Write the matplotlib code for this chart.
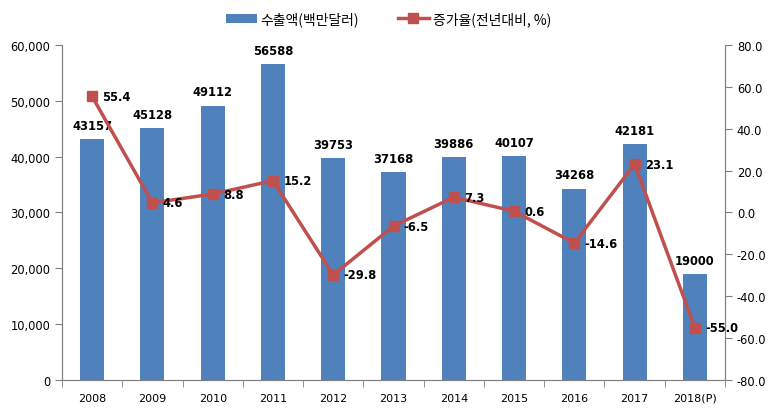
import numpy as np
import matplotlib
matplotlib.use('Agg')
import matplotlib.pyplot as plt
from matplotlib.ticker import FuncFormatter

plt.rcParams['font.family'] = ['DejaVu Sans', 'Noto Sans CJK KR']

years = ['2008', '2009', '2010', '2011', '2012', '2013', '2014', '2015', '2016', '2017', '2018(P)']
exports = [43157, 45128, 49112, 56588, 39753, 37168, 39886, 40107, 34268, 42181, 19000]
growth = [55.4, 4.6, 8.8, 15.2, -29.8, -6.5, 7.3, 0.6, -14.6, 23.1, -55.0]

bar_color = '#4F81BD'
line_color = '#C0504D'

fig = plt.figure(figsize=(7.77, 4.14), dpi=100)
ax = fig.add_axes([0.0798, 0.0797, 0.8533, 0.8093])
ax2 = ax.twinx()

x = np.arange(len(years))
bars = ax.bar(x, exports, width=0.4, color=bar_color, label='수출액(백만달러)', zorder=2)
ln, = ax2.plot(x, growth, color=line_color, lw=2.5, marker='s', ms=7,
               label='증가율(전년대비, %)', zorder=3)

ax.set_xlim(-0.5, len(years) - 0.5)
ax.set_ylim(0, 60000)
ax.set_yticks(np.arange(0, 60001, 10000))
ax.yaxis.set_major_formatter(FuncFormatter(lambda v, p: f'{int(v):,}'))
ax2.set_ylim(-80, 80)
ax2.set_yticks(np.arange(-80, 81, 20))
ax2.yaxis.set_major_formatter(FuncFormatter(lambda v, p: f'{v:.1f}'))

ax.set_xticks(x)
ax.set_xticklabels(years)
ax.set_xticks(np.arange(-0.5, len(years), 1), minor=True)
ax.tick_params(axis='x', which='major', length=0, labelsize=8, pad=9)
ax.tick_params(axis='x', which='minor', length=5, color='#808080')
ax.tick_params(axis='y', labelsize=8.3, length=5, color='#808080')
ax2.tick_params(axis='y', labelsize=8.3, length=5, color='#808080')

for a in (ax, ax2):
    for s in a.spines.values():
        s.set_color('#808080')
    a.spines['top'].set_visible(False)

for xi, v in zip(x, exports):
    ax.text(xi, v + 1300, str(v), ha='center', va='bottom', fontsize=8.3, fontweight='bold')

for xi, g in zip(x, growth):
    ax2.text(xi + 0.17, g, f'{g:.1f}', ha='left', va='center', fontsize=8.3, fontweight='bold')

fig.legend(handles=[bars, ln], loc='upper center', bbox_to_anchor=(0.5, 1.0), ncol=2,
           frameon=False, handlelength=2.2, handletextpad=0.3, columnspacing=2.8,
           prop={'family': ['Noto Sans CJK KR', 'DejaVu Sans'], 'size': 10})

fig.savefig('out.png', dpi=100)
